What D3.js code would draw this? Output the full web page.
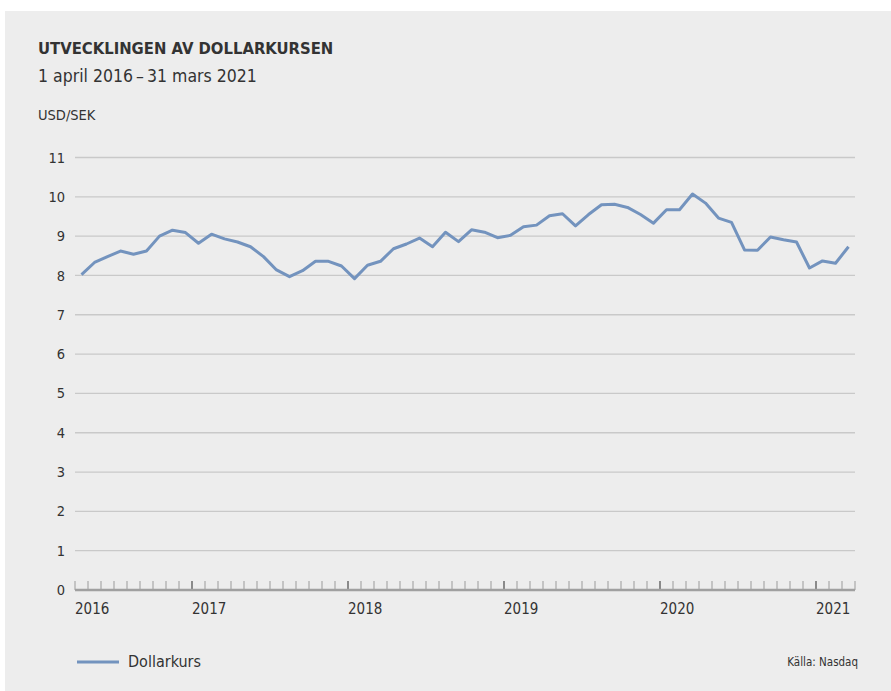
<!DOCTYPE html>
<html>
<head>
<meta charset="utf-8">
<script src="https://cdn.jsdelivr.net/npm/d3@7"></script>
<style>
  html, body { margin: 0; padding: 0; background: #ffffff; }
  svg { display: block; }
  text { font-family: "DejaVu Sans Condensed", "Roboto", sans-serif; fill: #333333; }
</style>
</head>
<body>
<svg id="chart" width="891" height="691"></svg>
<script>
// ---- Data ----
const months = [
  "2016-04","2016-05","2016-06","2016-07","2016-08","2016-09","2016-10","2016-11","2016-12",
  "2017-01","2017-02","2017-03","2017-04","2017-05","2017-06","2017-07","2017-08","2017-09","2017-10","2017-11","2017-12",
  "2018-01","2018-02","2018-03","2018-04","2018-05","2018-06","2018-07","2018-08","2018-09","2018-10","2018-11","2018-12",
  "2019-01","2019-02","2019-03","2019-04","2019-05","2019-06","2019-07","2019-08","2019-09","2019-10","2019-11","2019-12",
  "2020-01","2020-02","2020-03","2020-04","2020-05","2020-06","2020-07","2020-08","2020-09","2020-10","2020-11","2020-12",
  "2021-01","2021-02","2021-03"
];
const usdSek = [
  8.02, 8.33, 8.48, 8.62, 8.54, 8.62, 9.00, 9.15, 9.09,
  8.82, 9.05, 8.93, 8.85, 8.73, 8.48, 8.14, 7.97, 8.12, 8.36, 8.36, 8.24,
  7.92, 8.26, 8.36, 8.68, 8.80, 8.95, 8.73, 9.10, 8.86, 9.16, 9.10, 8.96,
  9.02, 9.24, 9.28, 9.52, 9.57, 9.26, 9.55, 9.80, 9.81, 9.73, 9.55, 9.33,
  9.67, 9.67, 10.07, 9.84, 9.46, 9.35, 8.65, 8.64, 8.98, 8.91, 8.85, 8.19,
  8.37, 8.31, 8.73
];
const yTicks = [0,1,2,3,4,5,6,7,8,9,10,11];
const yearLabels = ["2016","2017","2018","2019","2020","2021"];
const yearStarts = ["2016-04","2017-01","2018-01","2019-01","2020-01","2021-01"];
const titleText = "UTVECKLINGEN AV DOLLARKURSEN";
const subtitleText = "1 april 2016\u2009\u2013\u200931 mars 2021";
const unitText = "USD/SEK";
const seriesName = "Dollarkurs";
const sourceText = "K\u00e4lla: Nasdaq";

// ---- Layout ----
const svg = d3.select("#chart");
const plotLeft = 75, plotRight = 855, plotTop = 157.5, plotBottom = 590;
const lineColor = "#7393be";

svg.append("rect").attr("x", 5).attr("y", 11).attr("width", 886).attr("height", 680).attr("fill", "#ededed");

svg.append("text").attr("x", 38).attr("y", 54).text(titleText)
  .style("font-weight", "bold").style("font-size", "16.5px").attr("fill", "#1a1a1a");
svg.append("text").attr("x", 38).attr("y", 82).text(subtitleText).style("font-size", "17.5px");
svg.append("text").attr("x", 38).attr("y", 120).text(unitText).style("font-size", "14.5px");

const x = d3.scaleBand().domain(months).range([plotLeft, plotRight]).padding(0);
const y = d3.scaleLinear().domain([0, 11]).range([plotBottom, plotTop]);

// gridlines
svg.append("g").selectAll("line").data(yTicks.filter(d => d > 0)).join("line")
  .attr("x1", plotLeft).attr("x2", plotRight)
  .attr("y1", d => y(d)).attr("y2", d => y(d))
  .attr("stroke", "#c9c9c9").attr("stroke-width", 1.3);

// y labels
svg.append("g").selectAll("text").data(yTicks).join("text")
  .attr("x", 65).attr("y", d => y(d)).attr("dy", "0.35em")
  .attr("text-anchor", "end").style("font-size", "14.5px")
  .text(d => d);

// x axis ticks at band boundaries
const boundaries = months.map(m => x(m)).concat([x(months[months.length - 1]) + x.bandwidth()]);
svg.append("g").selectAll("line").data(boundaries).join("line")
  .attr("x1", d => d).attr("x2", d => d)
  .attr("y1", plotBottom - 9).attr("y2", plotBottom)
  .attr("stroke", (d, i) => (i < months.length && months[i].endsWith("-01")) ? "#8a8a8a" : "#a8a8a8")
  .attr("stroke-width", (d, i) => (i < months.length && months[i].endsWith("-01")) ? 2 : 1.2);
svg.append("line").attr("x1", plotLeft).attr("x2", plotRight)
  .attr("y1", plotBottom).attr("y2", plotBottom)
  .attr("stroke", "#a0a0a0").attr("stroke-width", 2.5);

svg.append("g").selectAll("text").data(yearLabels).join("text")
  .attr("x", (d, i) => x(yearStarts[i])).attr("y", 614)
  .style("font-size", "15px").text(d => d);

// line
const line = d3.line().x((d, i) => x(months[i]) + x.bandwidth() / 2).y(d => y(d));
svg.append("path").datum(usdSek).attr("d", line)
  .attr("fill", "none").attr("stroke", lineColor).attr("stroke-width", 3)
  .attr("stroke-linejoin", "round");

// legend
svg.append("line").attr("x1", 77).attr("x2", 119).attr("y1", 662).attr("y2", 662)
  .attr("stroke", lineColor).attr("stroke-width", 3);
svg.append("text").attr("x", 128).attr("y", 667).style("font-size", "16px").text(seriesName);
svg.append("text").attr("x", 858).attr("y", 666).attr("text-anchor", "end")
  .style("font-size", "11.5px").text(sourceText);
</script>
</body>
</html>
